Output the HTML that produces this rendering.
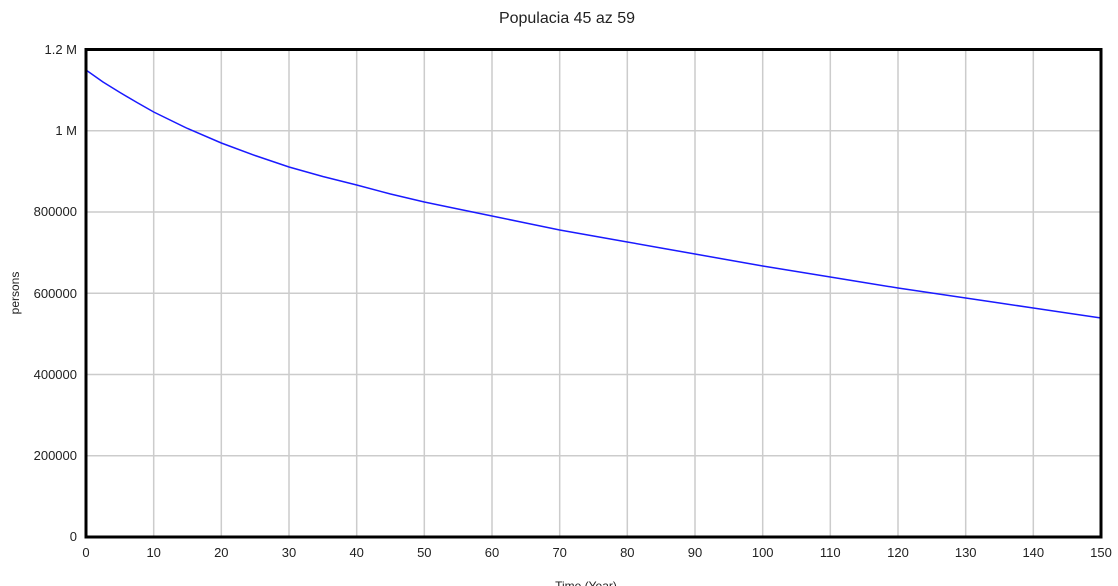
<!DOCTYPE html>
<html><head><style>body{margin:0;background:#fff}svg{display:block}text{font-family:"Liberation Sans","DejaVu Sans",sans-serif;fill:#222}</style></head>
<body>
<svg width="1118" height="586" xmlns="http://www.w3.org/2000/svg">
<text x="567" y="23" font-size="16" text-anchor="middle">Populacia 45 az 59</text>
<g stroke="#cccccc" stroke-width="1.5">
<line x1="153.7" y1="49" x2="153.7" y2="537"/><line x1="221.3" y1="49" x2="221.3" y2="537"/><line x1="289" y1="49" x2="289" y2="537"/><line x1="356.7" y1="49" x2="356.7" y2="537"/><line x1="424.3" y1="49" x2="424.3" y2="537"/><line x1="492" y1="49" x2="492" y2="537"/><line x1="559.7" y1="49" x2="559.7" y2="537"/><line x1="627.3" y1="49" x2="627.3" y2="537"/><line x1="695" y1="49" x2="695" y2="537"/><line x1="762.7" y1="49" x2="762.7" y2="537"/><line x1="830.3" y1="49" x2="830.3" y2="537"/><line x1="898" y1="49" x2="898" y2="537"/><line x1="965.7" y1="49" x2="965.7" y2="537"/><line x1="1033.3" y1="49" x2="1033.3" y2="537"/>
<line x1="86" y1="130.75" x2="1101" y2="130.75"/><line x1="86" y1="212" x2="1101" y2="212"/><line x1="86" y1="293.25" x2="1101" y2="293.25"/><line x1="86" y1="374.5" x2="1101" y2="374.5"/><line x1="86" y1="455.75" x2="1101" y2="455.75"/>
</g>
<polyline fill="none" stroke="#1a1aff" stroke-width="1.5" points="86,70 103,82 120,92.5 137,102.5 153.7,112 187.5,128.5 221.3,143 255,155.5 289,167 322.8,176.5 356.7,185 390.5,194 424.3,202 458,209 492,216 525.8,223 559.7,230 593.5,236 627.3,242 661,248 695,254 728.8,260 762.7,266 796.5,271.5 830.3,277 864,282.5 898,288 931.8,293 965.7,298 999.5,303 1033.3,308 1067,313 1101,318"/>
<rect x="86" y="49.5" width="1015" height="487.5" fill="none" stroke="#000" stroke-width="3"/>
<g font-size="13" text-anchor="end">
<text x="77" y="54">1.2 M</text><text x="77" y="135">1 M</text><text x="77" y="216">800000</text><text x="77" y="298">600000</text><text x="77" y="379">400000</text><text x="77" y="460">200000</text><text x="77" y="541">0</text>
</g>
<g font-size="13" text-anchor="middle">
<text x="86" y="557">0</text><text x="153.7" y="557">10</text><text x="221.3" y="557">20</text><text x="289" y="557">30</text><text x="356.7" y="557">40</text><text x="424.3" y="557">50</text><text x="492" y="557">60</text><text x="559.7" y="557">70</text><text x="627.3" y="557">80</text><text x="695" y="557">90</text><text x="762.7" y="557">100</text><text x="830.3" y="557">110</text><text x="898" y="557">120</text><text x="965.7" y="557">130</text><text x="1033.3" y="557">140</text><text x="1101" y="557">150</text>
<text x="586" y="590" font-size="12">Time (Year)</text>
</g>
<text x="19" y="293" font-size="12" text-anchor="middle" transform="rotate(-90 19 293)">persons</text>
</svg>
</body></html>
